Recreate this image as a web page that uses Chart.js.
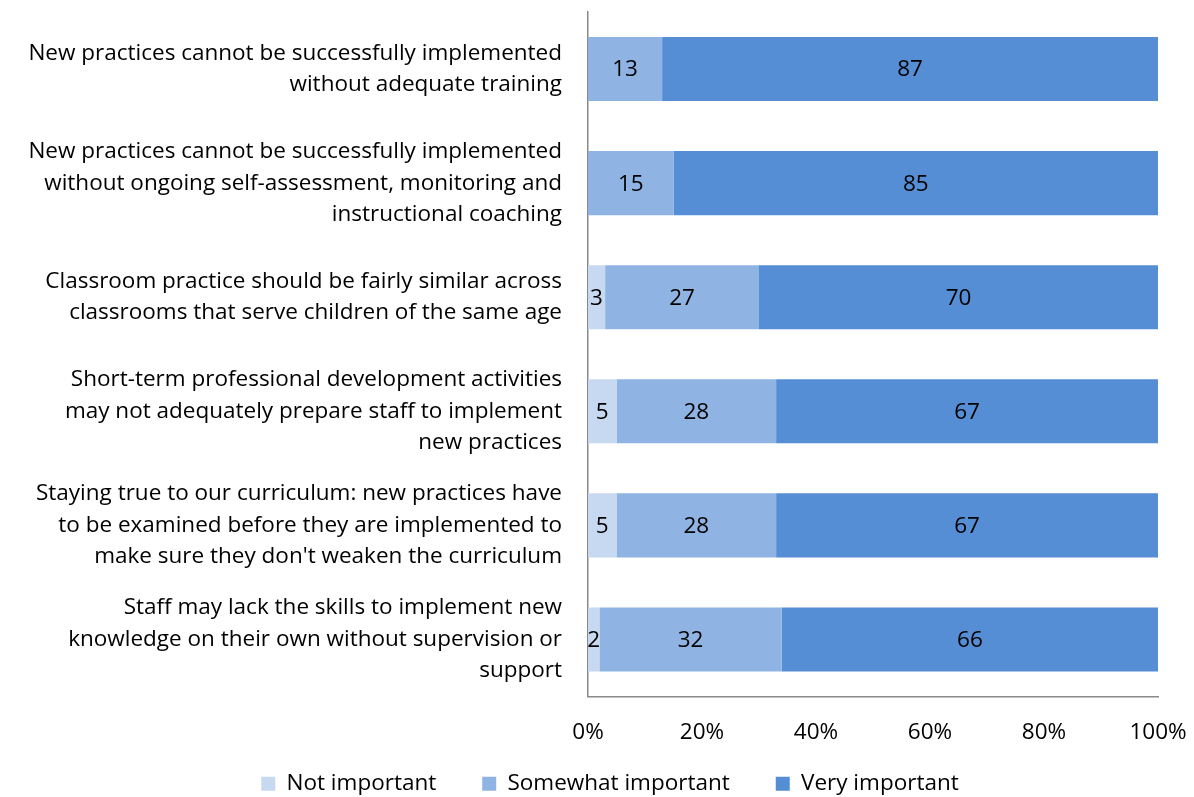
<!DOCTYPE html>
<html>
<head>
<meta charset="utf-8">
<script src="https://cdn.jsdelivr.net/npm/chart.js@4.4.1/dist/chart.umd.min.js"></script>
<style>
  html, body { margin: 0; padding: 0; background: #fff; overflow: hidden; }
  #wrap { position: relative; width: 1194px; height: 805px; }
</style>
</head>
<body>
<div id="wrap"><canvas id="chart"></canvas></div>
<script>
// Statements rated by staff (each row sums to 100%)
const statements = [
  ["New practices cannot be successfully implemented", "without adequate training"],
  ["New practices cannot be successfully implemented", "without ongoing self-assessment, monitoring and", "instructional coaching"],
  ["Classroom practice should be fairly similar across", "classrooms that serve children of the same age"],
  ["Short-term professional development activities", "may not adequately prepare staff to implement", "new practices"],
  ["Staying true to our curriculum: new practices have", "to be examined before they are implemented to", "make sure they don't weaken the curriculum"],
  ["Staff may lack the skills to implement new", "knowledge on their own without supervision or", "support"]
];
const notImportant      = [0, 0, 3, 5, 5, 2];
const somewhatImportant = [13, 15, 27, 28, 28, 32];
const veryImportant     = [87, 85, 70, 67, 67, 66];
const seriesNames = ["Not important", "Somewhat important", "Very important"];
const xTicks = [0, 20, 40, 60, 80, 100];

const FONT = "'Open Sans', 'Noto Sans', sans-serif";
const SIZE = 22.5;

// Writes each segment's value in the middle of its bar
const segmentLabels = {
  id: 'segmentLabels',
  afterDatasetsDraw(chart) {
    const ctx = chart.ctx;
    ctx.save();
    ctx.font = SIZE + "px " + FONT;
    ctx.fillStyle = '#000';
    ctx.textAlign = 'center';
    ctx.textBaseline = 'middle';
    chart.data.datasets.forEach((ds, di) => {
      const meta = chart.getDatasetMeta(di);
      meta.data.forEach((bar, i) => {
        const v = ds.data[i];
        if (!v) return;
        const p = bar.getProps(['x', 'y', 'base'], true);
        ctx.fillText(String(v), (p.x + p.base) / 2, p.y + 1);
      });
    });
    ctx.restore();
  }
};

// Lets the percent labels draw below the slim x-axis box, and centres the legend under the bars
const layoutTweaks = {
  id: 'layoutTweaks',
  afterLayout(chart) {
    chart.scales.x.bottom = chart.height;
    if (chart.legend) chart.legend.left = 62;
  }
};

new Chart(document.getElementById('chart'), {
  type: 'bar',
  data: {
    labels: statements,
    datasets: [
      { label: seriesNames[0], data: notImportant, backgroundColor: '#c6d9f1' },
      { label: seriesNames[1], data: somewhatImportant, backgroundColor: '#8fb4e3' },
      { label: seriesNames[2], data: veryImportant, backgroundColor: '#558ed5' }
    ]
  },
  options: {
    indexAxis: 'y',
    responsive: true,
    maintainAspectRatio: false,
    animation: false,
    events: [],
    datasets: { bar: { categoryPercentage: 1, barPercentage: 0.5614, borderWidth: 0 } },
    layout: { padding: { left: 0, right: 36, top: 12, bottom: 0 } },
    scales: {
      x: {
        stacked: true,
        min: 0,
        max: 100,
        afterBuildTicks(scale) { scale.ticks = xTicks.map(v => ({ value: v })); },
        afterFit(scale) {
          scale.height = 30;
          scale.paddingLeft = 0; scale.paddingRight = 0;
        },
        grid: { display: false, drawTicks: false },
        border: { display: true, color: '#898989', width: 1.5 },
        ticks: {
          padding: 23,
          color: '#000',
          maxRotation: 0,
          font: { family: FONT, size: SIZE, lineHeight: 1.2 },
          callback: v => v + '%'
        }
      },
      y: {
        stacked: true,
        afterFit(scale) {
          scale.width = 588;
          scale.paddingTop = 0; scale.paddingBottom = 0;
        },
        grid: { display: false, drawTicks: false },
        border: { display: true, color: '#898989', width: 1.5 },
        ticks: {
          padding: 26,
          color: '#000',
          font: { family: FONT, size: SIZE, lineHeight: '31.5px' }
        }
      }
    },
    plugins: {
      legend: {
        position: 'bottom',
        labels: {
          boxWidth: 14,
          boxHeight: 14,
          padding: 46,
          color: '#000',
          font: { family: FONT, size: SIZE }
        }
      },
      tooltip: { enabled: false }
    }
  },
  plugins: [segmentLabels, layoutTweaks]
});
</script>
</body>
</html>
